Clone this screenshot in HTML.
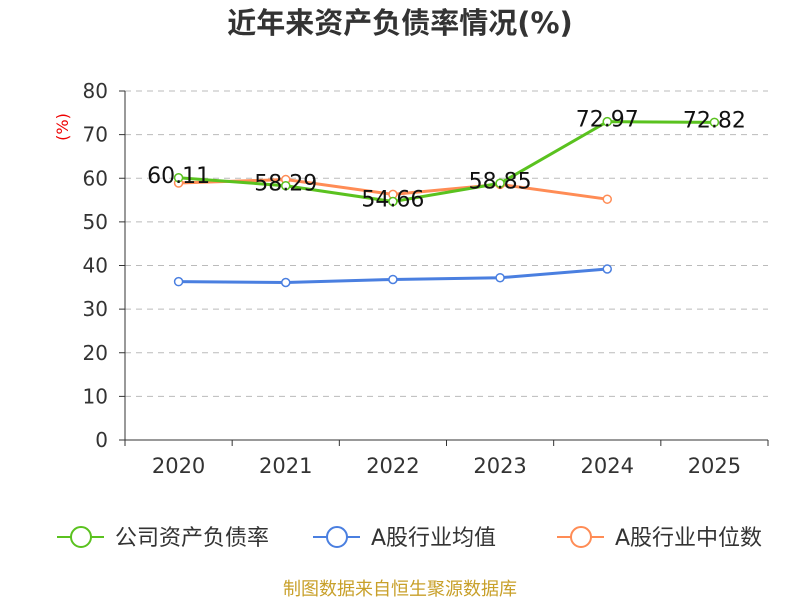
<!DOCTYPE html>
<html><head><meta charset="utf-8"><style>
body{margin:0;background:#fff;}
svg text{font-family:"DejaVu Sans","Noto Sans CJK SC",sans-serif;}
</style></head><body>
<svg id="chart" width="800" height="600" xmlns="http://www.w3.org/2000/svg">
<text x="400" y="33" text-anchor="middle" font-size="29" font-weight="bold" fill="#333">近年来资产负债率情况(%)</text>
<text x="68" y="127" font-size="16" fill="#e00" transform="rotate(-90 68 127)" text-anchor="middle">(%)</text>
<g id="grid"></g><g id="axes"></g><g id="series"></g><g id="legend"></g>
<text x="400" y="595" text-anchor="middle" font-size="18" fill="#c8a02a">制图数据来自恒生聚源数据库</text>
</svg>
<script>
const categories=["2020","2021","2022","2023","2024","2025"];
const yTicks=[0,10,20,30,40,50,60,70,80];
const companyValues=[60.11,58.29,54.66,58.85,72.97,72.82];
const avgValues=[36.3,36.1,36.8,37.2,39.2];
const medianValues=[58.9,59.7,56.3,58.6,55.2];
const seriesNames=["公司资产负债率","A股行业均值","A股行业中位数"];
const colors=["#5ac21f","#4a7fe0","#ff8c55"];
const NS="http://www.w3.org/2000/svg";
const x0=125,x1=768,y0=440,yTop=91,yMax=80;
const bw=(x1-x0)/categories.length;
const xs=i=>x0+bw*(i+0.5);
const ys=v=>y0-(v/yMax)*(y0-yTop);
function mk(tag,attrs,parent){const e=document.createElementNS(NS,tag);for(const k in attrs)e.setAttribute(k,attrs[k]);document.getElementById(parent)?document.getElementById(parent).appendChild(e):parent.appendChild(e);return e;}
yTicks.forEach(t=>{
  if(t>0){const g=mk('line',{x1:x0,x2:x1,y1:ys(t),y2:ys(t),stroke:'#bbb','stroke-dasharray':'6,5'},'grid');
  
  }
  const tk=mk('line',{x1:x0-6,x2:x0,y1:ys(t),y2:ys(t),stroke:'#333'},'axes');
  
  
  const lb=mk('text',{x:x0-17,y:ys(t)+7,'text-anchor':'end','font-size':20,fill:'#333'},'axes');lb.textContent=t;
  
  
});
let ya=mk('line',{x1:x0,x2:x0,y1:yTop,y2:y0,stroke:'#333'},'axes');


let xa=mk('line',{x1:x0,x2:x1,y1:y0,y2:y0,stroke:'#333'},'axes');


for(let i=0;i<=categories.length;i++){const t=mk('line',{x1:x0+bw*i,x2:x0+bw*i,y1:y0,y2:y0+6,stroke:'#333'},'axes');

}
categories.forEach((c,i)=>{const l=mk('text',{x:xs(i),y:y0+33,'text-anchor':'middle','font-size':21,fill:'#333'},'axes');l.textContent=c;

});
function drawSeries(vals,color,name,labels){
  const p=mk('polyline',{points:vals.map((v,i)=>xs(i)+','+ys(v)).join(' '),fill:'none',stroke:color,'stroke-width':3},'series');
  
  
  vals.forEach((v,i)=>{const c=mk('circle',{cx:xs(i),cy:ys(v),r:4,fill:'#fff',stroke:color,'stroke-width':1.5},'series');
  
  
  if(labels){const t=mk('text',{x:xs(i),y:ys(v)+5,'text-anchor':'middle','font-size':22,fill:'#111'},'series');t.textContent=v.toFixed(2);
  
  }});
}
drawSeries(avgValues,colors[1],'industry-avg',false);
drawSeries(medianValues,colors[2],'industry-median',false);
drawSeries(companyValues,colors[0],'company',true);
const lx=[57,313,557];
seriesNames.forEach((n,i)=>{
  const g=mk('g',{},'legend');
  
  
  mk('line',{x1:lx[i],x2:lx[i]+47,y1:537,y2:537,stroke:colors[i],'stroke-width':2},g);
  mk('circle',{cx:lx[i]+24,cy:537,r:10,fill:'#fff',stroke:colors[i],'stroke-width':2},g);
  const t=mk('text',{x:lx[i]+58,y:545,'font-size':22,fill:'#333'},g);t.textContent=n;
});
</script>
</body></html>
